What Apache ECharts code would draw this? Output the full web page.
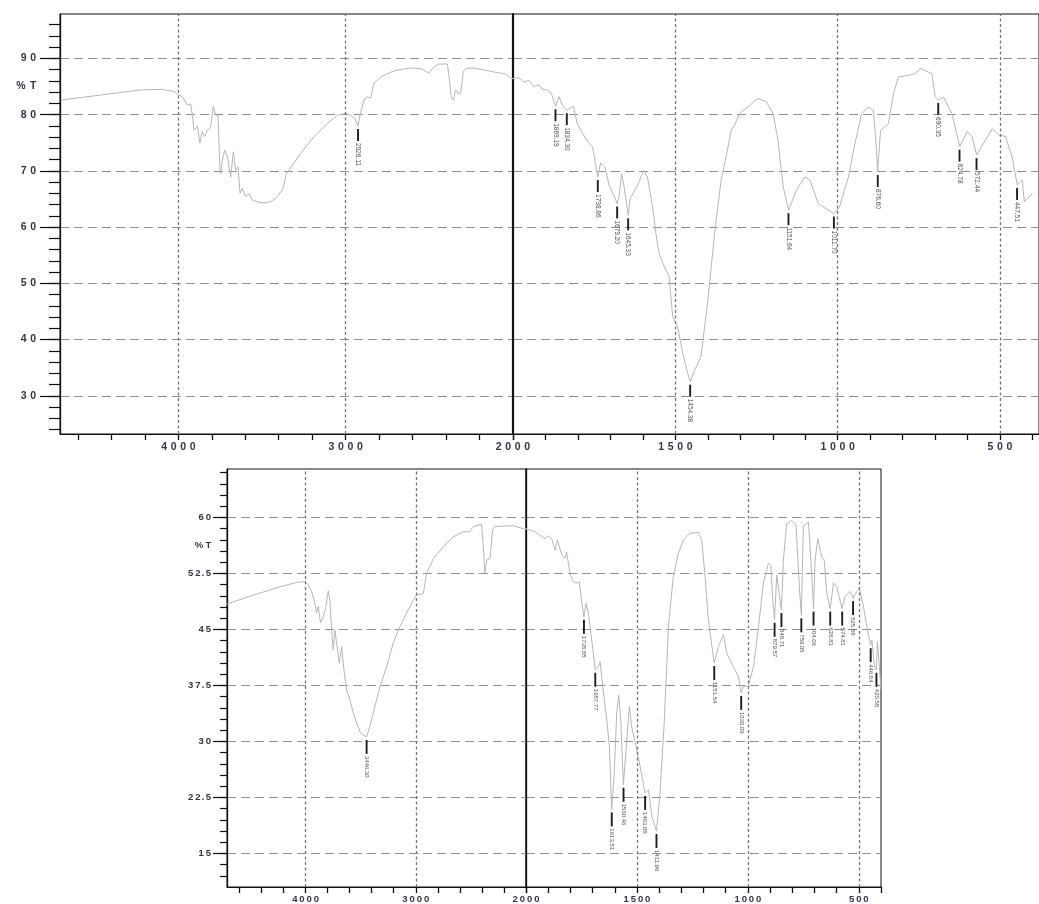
<!DOCTYPE html>
<html>
<head>
<meta charset="utf-8">
<script src="https://cdn.jsdelivr.net/npm/echarts@6.0.0/dist/echarts.min.js"></script>
<style>
  html, body { margin: 0; padding: 0; background: #ffffff; }
  #chart { width: 1039px; height: 904px; }
</style>
</head>
<body>
<div id="chart"></div>
<script>
// ---- Upper spectrum: wavenumber (cm-1) and transmittance (%T) ----
const upperWavenumber = [
  4700, 4460, 4225, 4100, 4025, 4000, 3976, 3946, 3926, 3916, 3906, 3886, 3871, 3857, 3843, 3827,
  3807, 3791, 3777, 3763, 3751, 3747, 3737, 3723, 3707, 3687, 3671, 3657, 3643, 3631, 3618, 3598,
  3578, 3558, 3528, 3488, 3448, 3408, 3375, 3355, 3269, 3189, 3110, 3050, 3000, 2970, 2945, 2926,
  2910, 2890, 2871, 2851, 2831, 2791, 2711, 2612, 2552, 2502, 2472, 2442, 2392, 2382, 2368, 2356,
  2343, 2329, 2313, 2297, 2283, 2233, 2114, 2040, 2014, 2000, 1982, 1967, 1951, 1936, 1920, 1910,
  1895, 1882, 1869, 1863, 1858, 1848, 1834, 1814, 1802, 1786, 1766, 1755, 1745, 1739, 1730, 1717,
  1704, 1690, 1679, 1673, 1666, 1658, 1645, 1639, 1627, 1611, 1598, 1586, 1570, 1560, 1550, 1534,
  1519, 1508, 1493, 1477, 1462, 1454, 1441, 1421, 1400, 1379, 1359, 1348, 1328, 1318, 1302, 1276,
  1246, 1220, 1199, 1184, 1168, 1151, 1127, 1101, 1086, 1060, 1029, 1012, 995, 967, 947, 926,
  906, 890, 882, 877, 868, 844, 828, 813, 782, 761, 746, 730, 710, 700, 690, 674,
  648, 624, 601, 586, 572, 545, 524, 504, 483, 463, 447, 432, 425, 400
];
const upperTransmittance = [
  82.6, 83.5, 84.4, 84.5, 84.1, 83.5, 83.2, 81.7, 81.9, 79.9, 77.2, 78.0, 74.9, 77.0, 76.1, 77.2,
  77.8, 81.5, 79.9, 79.9, 70.1, 69.5, 71.9, 73.7, 72.5, 68.9, 73.4, 70.1, 70.7, 66.0, 66.9, 65.4,
  66.0, 64.8, 64.5, 64.3, 64.5, 65.4, 66.8, 69.4, 73.1, 76.1, 78.4, 79.9, 80.2, 79.9, 79.3, 78.0,
  80.5, 82.6, 83.2, 82.9, 85.6, 86.7, 87.8, 88.3, 88.2, 87.4, 88.5, 89.0, 89.0, 86.7, 82.9, 82.6,
  84.4, 83.8, 83.8, 87.6, 88.2, 88.3, 87.6, 87.2, 86.5, 86.4, 86.6, 85.8, 86.1, 85.0, 85.3, 84.5,
  84.4, 83.8, 81.5, 81.8, 83.2, 81.7, 80.8, 81.5, 78.4, 76.7, 74.9, 74.3, 71.0, 68.9, 71.4, 70.7,
  67.5, 65.7, 64.2, 65.4, 69.5, 67.2, 62.1, 65.1, 66.3, 68.1, 70.1, 68.9, 63.6, 58.9, 55.3, 52.9,
  51.2, 44.0, 42.3, 37.5, 34.0, 32.5, 34.5, 36.9, 47.0, 58.9, 68.4, 71.3, 77.2, 78.1, 80.2, 81.4,
  82.9, 82.3, 80.2, 75.5, 67.2, 63.0, 66.6, 68.9, 68.4, 64.2, 63.0, 62.4, 63.5, 68.9, 74.9, 80.2,
  81.3, 80.8, 74.9, 69.8, 77.2, 78.4, 83.8, 86.7, 87.0, 87.3, 88.2, 87.8, 87.3, 83.2, 82.6, 83.1,
  80.2, 74.3, 77.0, 76.1, 72.8, 75.5, 77.5, 76.4, 76.1, 72.5, 67.5, 68.4, 64.5, 66.0
];
const upperPeakWavenumber = [2926.11, 1869.19, 1834.30, 1738.86, 1679.20, 1645.33, 1454.38,
  1151.64, 1011.70, 876.60, 690.35, 624.78, 572.44, 447.51];
const upperPeakTransmittance = [78.0, 81.5, 80.8, 68.9, 64.2, 62.1, 32.5,
  63.0, 62.4, 69.8, 82.6, 74.3, 72.8, 67.5];

// ---- Lower spectrum ----
const lowerWavenumber = [
  4715, 4475, 4233, 4082, 4006, 3976, 3946, 3930, 3915, 3900, 3885, 3864, 3840, 3815, 3794, 3779,
  3764, 3749, 3734, 3719, 3694, 3673, 3652, 3628, 3598, 3567, 3537, 3507, 3480, 3448, 3431, 3386,
  3325, 3265, 3204, 3144, 3083, 3023, 2993, 2932, 2902, 2841, 2751, 2660, 2569, 2509, 2478, 2403,
  2388, 2373, 2357, 2327, 2303, 2282, 2115, 2024, 2000, 1982, 1959, 1937, 1914, 1899, 1884, 1869,
  1859, 1839, 1824, 1817, 1802, 1787, 1772, 1760, 1749, 1739, 1729, 1719, 1704, 1688, 1674, 1666,
  1651, 1636, 1624, 1614, 1603, 1591, 1582, 1573, 1561, 1549, 1534, 1524, 1504, 1486, 1463, 1448,
  1433, 1412, 1396, 1378, 1358, 1336, 1313, 1291, 1261, 1223, 1208, 1193, 1178, 1152, 1133, 1110,
  1095, 1065, 1043, 1030, 1020, 998, 975, 952, 930, 907, 897, 888, 880, 870, 862, 849,
  840, 825, 802, 783, 768, 759, 750, 737, 727, 716, 704, 697, 685, 667, 656, 644,
  629, 614, 599, 576, 562, 539, 526, 509, 497, 479, 464, 447, 441, 429, 421, 416,
  408, 400
];
const lowerTransmittance = [
  48.4, 49.6, 50.7, 51.3, 51.4, 51.0, 50.1, 50.2, 48.5, 47.2, 48.1, 45.9, 46.7, 48.1, 50.2, 48.9,
  44.9, 42.3, 44.9, 43.2, 40.5, 42.7, 39.6, 36.9, 35.6, 33.8, 32.5, 31.3, 30.9, 30.6, 31.3, 33.8,
  37.4, 40.0, 43.2, 45.4, 47.2, 48.9, 49.6, 49.8, 52.5, 54.5, 56.1, 57.4, 58.1, 58.1, 58.8, 59.1,
  56.1, 52.5, 54.3, 54.5, 58.3, 58.8, 58.9, 58.5, 58.5, 58.3, 58.1, 57.6, 57.2, 57.5, 57.2, 55.6,
  57.0, 55.0, 54.5, 55.4, 52.5, 51.4, 51.2, 51.4, 48.7, 46.7, 48.5, 47.2, 43.6, 39.6, 40.0, 40.7,
  36.5, 32.9, 29.3, 20.9, 25.3, 33.8, 36.2, 32.9, 24.2, 28.9, 34.7, 32.0, 29.3, 26.7, 23.1, 23.5,
  20.0, 18.0, 23.1, 32.0, 45.4, 52.1, 55.2, 57.0, 57.9, 58.0, 57.0, 52.1, 46.3, 40.5, 42.7, 44.3,
  41.8, 40.0, 38.7, 36.5, 37.4, 37.4, 40.0, 45.4, 51.2, 53.9, 53.6, 49.0, 46.3, 52.3, 52.1, 47.6,
  54.3, 59.2, 59.6, 59.0, 50.7, 46.9, 58.8, 59.2, 59.4, 54.3, 47.8, 54.3, 57.2, 54.7, 54.3, 49.8,
  47.8, 51.2, 50.7, 47.8, 49.4, 50.1, 49.2, 50.1, 50.5, 48.1, 45.4, 42.9, 43.6, 40.0, 39.6, 43.4,
  43.6, 37.0
];
const lowerPeakWavenumber = [3446.30, 1738.85, 1687.77, 1613.51, 1560.46, 1463.08, 1411.96,
  1151.54, 1030.09, 879.57, 848.71, 759.05, 704.06, 628.81, 574.81, 525.88, 446.54, 420.58];
const lowerPeakTransmittance = [30.6, 46.7, 39.6, 20.9, 24.2, 23.1, 18.0,
  40.5, 36.5, 46.3, 47.6, 46.9, 47.8, 47.8, 47.8, 49.2, 42.9, 39.6];

// ---- Axis ticks and labels ----
const upperYLabels = [30, 40, 50, 60, 70, 80, 90];
const lowerYLabels = [15, 22.5, 30, 37.5, 45, 52.5, 60];
const highRangeLabels = [4000, 3000];
const lowRangeLabels = [2000, 1500, 1000, 500];
const upperUnitAt = 85;       // "%T" sits between 80 and 90
const lowerUnitAt = 56.25;    // "%T" sits between 52.5 and 60
const unitText = '%T';

function steps(from, to, step) {
  const out = [];
  const n = Math.round((to - from) / step);
  for (let i = 0; i <= n; i++) out.push(+(from + i * step).toFixed(4));
  return out;
}

const INK = '#111111';
const LABEL_INK = '#34344a';
const CURVE = '#b6b6b6';
const FONT = '"Liberation Sans", Arial, sans-serif';

// Spaced-out glyph cells give the wide look of the instrument's axis captions
function cellFormatter(unitValue) {
  return function (v) {
    const s = (unitValue !== undefined && Math.abs(v - unitValue) < 1e-6) ? unitText : String(v);
    return s.split('').map(ch => ch === '.' ? '{p|.}' : ch === '%' ? '{w|%}' : '{d|' + ch + '}').join('');
  };
}
function cellRich(w, size) {
  const base = { fontSize: size, fontWeight: 'bold', color: LABEL_INK, fontFamily: FONT, align: 'center' };
  return {
    d: Object.assign({ width: w }, base),
    p: Object.assign({ width: w * 0.45 }, base),
    w: Object.assign({ width: w * 1.6 }, base)
  };
}

function pairs(xs, ys) { return xs.map((x, i) => [x, ys[i]]); }

function peakSeries(xIdx, yIdx, xs, ys, lo, hi, gap, len, fontSize) {
  const data = pairs(xs, ys).filter(d => d[0] >= lo && d[0] <= hi);
  return {
    type: 'custom',
    xAxisIndex: xIdx,
    yAxisIndex: yIdx,
    z: 5,
    silent: true,
    data: data,
    renderItem: function (params, api) {
      const wn = api.value(0);
      const p = api.coord([wn, api.value(1)]);
      return {
        type: 'group',
        children: [
          { type: 'line', shape: { x1: p[0], y1: p[1] + gap, x2: p[0], y2: p[1] + gap + len },
            style: { stroke: '#1e1e1e', lineWidth: 1.9 } },
          { type: 'text', x: p[0], y: p[1] + gap + len + 2, rotation: -Math.PI / 2,
            style: { text: wn.toFixed(2), fontSize: fontSize, fill: '#56524c', fontFamily: FONT,
                     align: 'left', verticalAlign: 'middle' } }
        ]
      };
    }
  };
}

// Each spectrum is split at 2000 cm-1 into two grids (the instrument doubles the scale below 2000)
function panel(cfg, base) {
  const gx = base.grid, ax = base.x, ay = base.y;
  const grids = [
    { left: cfg.left, top: cfg.top, width: cfg.split - cfg.left, height: cfg.height,
      show: true, borderColor: INK, borderWidth: 1, backgroundColor: 'transparent' },
    { left: cfg.split, top: cfg.top, width: cfg.right - cfg.split, height: cfg.height,
      show: true, borderColor: INK, borderWidth: 1, backgroundColor: 'transparent' }
  ];
  const xLabel = (vals) => ({ show: true, customValues: vals, margin: cfg.xLabelMargin,
    formatter: cellFormatter(), rich: cellRich(cfg.cellW, cfg.labelSize) });
  const xTick = (vals) => ({ show: true, inside: false, length: 6, customValues: vals,
    lineStyle: { color: INK, width: 1.3 } });
  const xAxes = [
    { type: 'value', gridIndex: gx, min: 2000, max: cfg.highMax, inverse: true, position: 'bottom',
      axisLine: { show: true, onZero: false, lineStyle: { color: INK, width: 1.2 } },
      axisTick: xTick(steps(2000, 4600, 200)), axisLabel: xLabel(highRangeLabels),
      splitLine: { show: false } },
    { type: 'value', gridIndex: gx + 1, min: cfg.lowMin, max: 2000, inverse: true, position: 'bottom',
      axisLine: { show: true, onZero: false, lineStyle: { color: INK, width: 1.2 } },
      axisTick: xTick(steps(Math.ceil(cfg.lowMin / 100) * 100, 2000, 100)), axisLabel: xLabel(lowRangeLabels),
      splitLine: { show: false } }
  ];
  const dashed = { show: true, lineStyle: { color: '#909090', type: [9, 5], width: 1 } };
  const yAxes = [
    { type: 'value', gridIndex: gx, min: cfg.yMin, max: cfg.yMax, position: 'left',
      axisLine: { show: true, onZero: false, lineStyle: { color: INK, width: 1.3 } },
      axisTick: { show: true, inside: false, length: cfg.majorLen, customValues: cfg.yLabels,
        lineStyle: { color: INK, width: 1.2 } },
      axisLabel: { show: true, customValues: cfg.yLabels.concat([cfg.unitAt]), margin: cfg.yLabelMargin,
        formatter: cellFormatter(cfg.unitAt), rich: cellRich(cfg.cellW, cfg.labelSize) },
      splitLine: dashed },
    { type: 'value', gridIndex: gx, min: cfg.yMin, max: cfg.yMax, position: 'left',
      axisLine: { show: false },
      axisTick: { show: true, inside: false, length: cfg.minorLen, customValues: cfg.yMinor,
        lineStyle: { color: INK, width: 1.2 } },
      axisLabel: { show: false }, splitLine: { show: false } },
    { type: 'value', gridIndex: gx + 1, min: cfg.yMin, max: cfg.yMax, position: 'left',
      axisLine: { show: true, onZero: false, lineStyle: { color: INK, width: cfg.boundaryW } },
      axisTick: { show: false, customValues: cfg.yLabels },
      axisLabel: { show: false }, splitLine: dashed }
  ];
  const dotted = { color: '#767676', type: [3, 2.5], width: 1.3 };
  const curve = (xi, yi, marks) => ({
    type: 'line', xAxisIndex: xi, yAxisIndex: yi, data: pairs(cfg.wn, cfg.t),
    showSymbol: false, symbol: 'none', clip: true, silent: true,
    lineStyle: { color: CURVE, width: 1 },
    markLine: { silent: true, symbol: 'none', label: { show: false }, animation: false,
      lineStyle: dotted, data: marks.map(v => ({ xAxis: v })) }
  });
  const series = [
    curve(ax, ay, [4000, 3000]),
    curve(ax + 1, ay + 2, [1500, 1000, 500]),
    peakSeries(ax, ay, cfg.peaks, cfg.peaksT, 2000, cfg.highMax, cfg.gap, cfg.tickLen, cfg.peakFont),
    peakSeries(ax + 1, ay + 2, cfg.peaks, cfg.peaksT, cfg.lowMin, 2000, cfg.gap, cfg.tickLen, cfg.peakFont)
  ];
  return { grids, xAxes, yAxes, series };
}

const upper = panel({
  left: 60, split: 513, right: 1055, top: 14, height: 420,
  highMax: 4707, lowMin: 380, yMin: 23.2, yMax: 97.9,
  yLabels: upperYLabels, yMinor: steps(24, 96, 2), unitAt: upperUnitAt,
  majorLen: 20, minorLen: 11, yLabelMargin: 22, xLabelMargin: 8, cellW: 9.5, labelSize: 10.5, boundaryW: 2.2,
  wn: upperWavenumber, t: upperTransmittance,
  peaks: upperPeakWavenumber, peaksT: upperPeakTransmittance, gap: 3, tickLen: 12, peakFont: 6.5
}, { grid: 0, x: 0, y: 0 });

const lower = panel({
  left: 227, split: 526, right: 881, top: 469, height: 418,
  highMax: 4713, lowMin: 400, yMin: 10.5, yMax: 66.5,
  yLabels: lowerYLabels, yMinor: steps(12, 66, 1.5), unitAt: lowerUnitAt,
  majorLen: 14, minorLen: 7, yLabelMargin: 15, xLabelMargin: 7, cellW: 7.2, labelSize: 9.5, boundaryW: 1.3,
  wn: lowerWavenumber, t: lowerTransmittance,
  peaks: lowerPeakWavenumber, peaksT: lowerPeakTransmittance, gap: 3, tickLen: 14, peakFont: 6
}, { grid: 2, x: 2, y: 3 });

const chart = echarts.init(document.getElementById('chart'), null, { renderer: 'canvas' });
chart.setOption({
  animation: false,
  backgroundColor: '#ffffff',
  grid: upper.grids.concat(lower.grids),
  xAxis: upper.xAxes.concat(lower.xAxes),
  yAxis: upper.yAxes.concat(lower.yAxes),
  series: upper.series.concat(lower.series)
});
</script>
</body>
</html>
